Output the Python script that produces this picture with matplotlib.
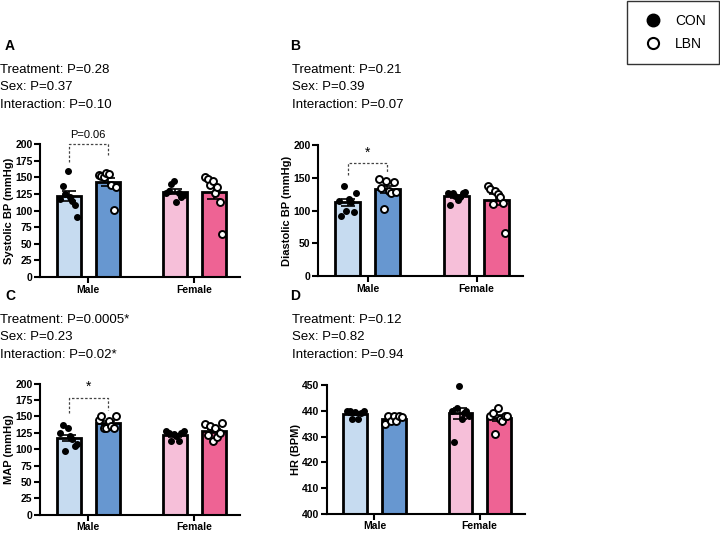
import matplotlib.pyplot as plt
from matplotlib.lines import Line2D
import numpy as np

plt.rcParams['font.family'] = ['Liberation Sans', 'DejaVu Sans']

# bar colours: male CON, male LBN, female CON, female LBN
colors = ["#c6dbf0", "#6797d0", "#f6bfd9", "#ee6394"]
groups = ["Male", "Female"]

# individual animals per panel (CON male, LBN male, CON female, LBN female)
sbp = [[118, 137, 125, 159, 121, 115, 108, 91],
       [153, 152, 150, 157, 155, 138, 101, 136],
       [127, 130, 140, 144, 113, 126, 121, 124],
       [150, 147, 138, 145, 126, 135, 113, 65]]
dbp = [[115, 92, 137, 100, 118, 113, 97, 127],
       [148, 135, 102, 145, 130, 127, 143, 128],
       [126, 108, 126, 122, 116, 120, 126, 128],
       [138, 133, 110, 130, 125, 120, 112, 65]]
map_ = [[125, 137, 97, 132, 120, 115, 105, 108],
        [145, 150, 133, 132, 143, 135, 133, 151],
        [127, 125, 112, 123, 120, 112, 124, 128],
        [138, 122, 135, 112, 132, 118, 125, 140]]
hr = [[440, 440, 437, 439.5, 437, 439, 440],
      [435, 438, 436, 438, 436, 438, 437.5],
      [440, 428, 441, 449.5, 437, 439, 440, 438],
      [438, 439, 431, 441, 437, 436, 438, 438]]

stats = {
    "A": ["Treatment: P=0.28", "Sex: P=0.37", "Interaction: P=0.10"],
    "B": ["Treatment: P=0.21", "Sex: P=0.39", "Interaction: P=0.07"],
    "C": ["Treatment: P=0.0005*", "Sex: P=0.23", "Interaction: P=0.02*"],
    "D": ["Treatment: P=0.12", "Sex: P=0.82", "Interaction: P=0.94"],
}

xpos = np.array([0, 1, 2.74, 3.74])

fig = plt.figure(figsize=(7.2, 5.35), dpi=100)


def panel(rect, data, ylim, yticks, ylabel, bracket=None):
    ax = fig.add_axes(rect)
    for i, vals in enumerate(data):
        vals = np.array(vals, dtype=float)
        m = vals.mean()
        se = vals.std(ddof=1) / np.sqrt(len(vals))
        ax.bar(xpos[i], m - ylim[0], bottom=ylim[0], width=0.62,
               color=colors[i], edgecolor="black", linewidth=2, zorder=2)
        ax.errorbar(xpos[i], m, yerr=se, color="black", capsize=5,
                    elinewidth=1.2, capthick=1.2, zorder=3)
        off = np.linspace(-0.22, 0.22, len(vals))
        if i % 2 == 0:
            ax.plot(xpos[i] + off, vals, "o", ms=4, color="black", zorder=4,
                    clip_on=False)
        else:
            ax.plot(xpos[i] + off, vals, "o", ms=5, mfc="white", mec="black",
                    mew=1.4, zorder=4, clip_on=False)
    ax.set_xlim(-0.74, 4.42)
    ax.set_ylim(*ylim)
    ax.set_yticks(yticks)
    ax.set_xticks([0.5, 3.24])
    ax.set_xticklabels(groups, fontweight="bold", fontsize=7.5)
    for lab in ax.get_yticklabels():
        lab.set_fontweight("bold")
        lab.set_fontsize(7.5)
    ax.set_ylabel(ylabel, fontweight="bold", fontsize=8, labelpad=1)
    for s in ["top", "right"]:
        ax.spines[s].set_visible(False)
    for s in ["left", "bottom"]:
        ax.spines[s].set_linewidth(1.5)
    ax.tick_params(width=1.5, length=4)
    ax.tick_params(axis="x", pad=1.5)
    ax.tick_params(axis="y", pad=1.5)
    if bracket is not None:
        top, y1, y2, label = bracket
        ax.plot([0, 0, 1, 1], [y1, top, top, y2], ls=(0, (2, 1.5)),
                color="#444444", lw=0.9, clip_on=False)
        ax.text(0.5, top + (ylim[1] - ylim[0]) * 0.03, label, ha="center",
                va="bottom", fontsize=8 if label != "*" else 10,
                clip_on=False)
    return ax


panel([0.0556, 0.482, 0.278, 0.249], sbp, (0, 200), np.arange(0, 201, 25),
      "Systolic BP (mmHg)", (200, 173, 183, "P=0.06"))
panel([0.442, 0.484, 0.285, 0.245], dbp, (0, 200), np.arange(0, 201, 50),
      "Diastolic BP (mmHg)", (172, 154, 158, "*"))
panel([0.0556, 0.038, 0.278, 0.245], map_, (0, 200), np.arange(0, 201, 25),
      "MAP (mmHg)", (178, 155, 160, "*"))
panel([0.454, 0.040, 0.275, 0.240], hr, (400, 450), np.arange(400, 451, 10),
      "HR (BPM)")

# panel letters and stats text
for key, (x, y) in {"A": (5, 46), "B": (290, 46),
                    "C": (5, 296), "D": (290, 296)}.items():
    fig.text(x / 720, 1 - y / 535, key, fontweight="bold", fontsize=10,
             va="center")
    for j, line in enumerate(stats[key]):
        fig.text((x - 5) / 720 if key in "AC" else (x + 2) / 720,
                 1 - (y + 24 + 17.3 * j) / 535, line, fontsize=9.5,
                 va="center")

handles = [Line2D([], [], ls="none", marker="o", ms=9, color="black"),
           Line2D([], [], ls="none", marker="o", ms=8, mfc="white",
                  mec="black", mew=1.5)]
fig.legend(handles, ["CON", "LBN"], loc="upper right",
           bbox_to_anchor=(0.998, 0.998), borderaxespad=0, frameon=True,
           fancybox=False, edgecolor="black", fontsize=10,
           handletextpad=0.6, borderpad=0.9, labelspacing=0.7)

fig.savefig("out.png", dpi=100)
